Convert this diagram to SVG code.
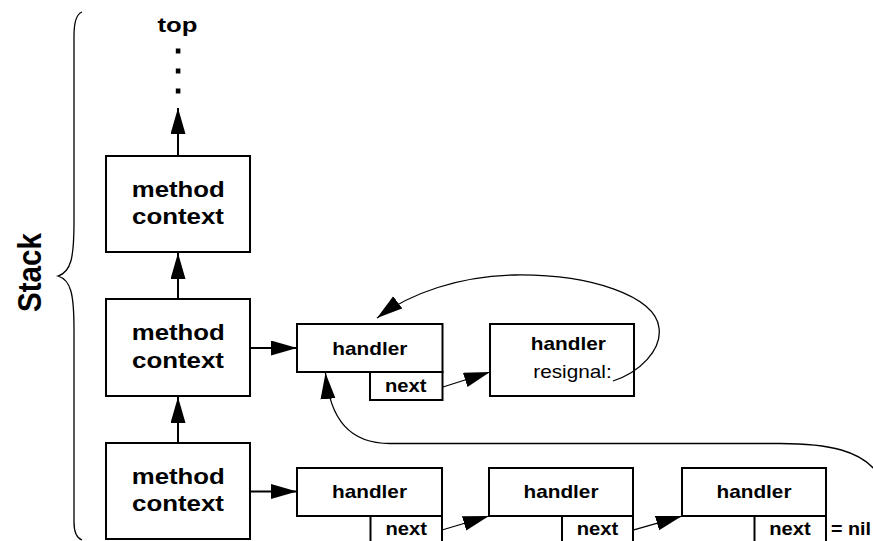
<svg xmlns="http://www.w3.org/2000/svg" width="873" height="541" viewBox="0 0 873 541">
  <style>
    .box { fill: #ffffff; stroke: #000000; stroke-width: 2; }
    .lbl { font-family: "Liberation Sans", Arial, Helvetica, sans-serif; font-weight: bold; fill: #000000; text-anchor: middle; }
    .plain { font-family: "Liberation Sans", Arial, Helvetica, sans-serif; font-weight: normal; fill: #000000; }
    .line { fill: none; stroke: #000000; stroke-width: 2; }
    .curve { fill: none; stroke: #000000; stroke-width: 1.3; }
  </style>
  <defs>
    <marker id="arrow" markerUnits="userSpaceOnUse" markerWidth="28" markerHeight="16" refX="26" refY="7.5" orient="auto">
      <path d="M0,0 L26,7.5 L0,15 Z" fill="#000000"/>
    </marker>
  </defs>

  <rect width="873" height="541" fill="#ffffff"/>

  <!-- stack brace and label -->
  <g id="stack">
    <path d="M82,12 C76.5,14 74,22 74,36 L74,222 C74,258 71,272 58,276 C71,280 74,294 74,330 L74,522 C74,532 76.5,538 82,540" fill="none" stroke="#000000" stroke-width="1.3"/>
    <text class="lbl" transform="translate(40.5,272.5) rotate(-90) scale(1,1.2)" font-size="27" textLength="79" lengthAdjust="spacingAndGlyphs">Stack</text>
  </g>

  <!-- top of stack -->
  <g id="top">
    <text class="lbl" x="177.5" y="31.7" font-size="21" textLength="40" lengthAdjust="spacingAndGlyphs">top</text>
    <rect x="175.8" y="48.5" width="4.6" height="5"/>
    <rect x="175.8" y="68.5" width="4.6" height="5"/>
    <rect x="175.8" y="88.5" width="4.6" height="5"/>
  </g>

  <!-- method contexts -->
  <g id="context-top">
    <rect class="box" x="106" y="156" width="144" height="96"/>
    <text class="lbl" x="178.3" y="196.7" font-size="22" textLength="93" lengthAdjust="spacingAndGlyphs">method</text>
    <text class="lbl" x="178" y="224" font-size="22" textLength="92" lengthAdjust="spacingAndGlyphs">context</text>
  </g>
  <g id="context-middle">
    <rect class="box" x="106" y="299" width="144" height="97"/>
    <text class="lbl" x="178.3" y="340" font-size="22" textLength="93" lengthAdjust="spacingAndGlyphs">method</text>
    <text class="lbl" x="178" y="367.8" font-size="22" textLength="92" lengthAdjust="spacingAndGlyphs">context</text>
  </g>
  <g id="context-bottom">
    <rect class="box" x="106" y="443" width="144" height="96"/>
    <text class="lbl" x="178.3" y="483.5" font-size="22" textLength="93" lengthAdjust="spacingAndGlyphs">method</text>
    <text class="lbl" x="178" y="511.3" font-size="22" textLength="92" lengthAdjust="spacingAndGlyphs">context</text>
  </g>

  <!-- handlers of the middle context -->
  <g id="handler-a">
    <rect class="box" x="297" y="324" width="145.5" height="48"/>
    <rect class="box" x="370" y="372" width="72.5" height="28"/>
    <text class="lbl" x="369.8" y="355" font-size="18.5" textLength="75" lengthAdjust="spacingAndGlyphs">handler</text>
    <text class="lbl" x="405.8" y="391.7" font-size="18.5" textLength="41.5" lengthAdjust="spacingAndGlyphs">next</text>
  </g>
  <g id="handler-resignal">
    <rect class="box" x="490" y="324" width="144" height="72"/>
    <text class="lbl" x="568.3" y="350" font-size="18.5" textLength="75" lengthAdjust="spacingAndGlyphs">handler</text>
    <text class="plain" x="533.3" y="378.3" font-size="18.5" textLength="78.4" lengthAdjust="spacingAndGlyphs">resignal:</text>
  </g>

  <!-- handlers of the bottom context -->
  <g id="handler-1">
    <rect class="box" x="297" y="468" width="145" height="48"/>
    <rect class="box" x="370.5" y="516" width="71.5" height="30"/>
    <text class="lbl" x="369.5" y="498" font-size="18.5" textLength="75" lengthAdjust="spacingAndGlyphs">handler</text>
    <text class="lbl" x="406.3" y="535" font-size="18.5" textLength="41.5" lengthAdjust="spacingAndGlyphs">next</text>
  </g>
  <g id="handler-2">
    <rect class="box" x="489" y="468" width="144" height="48"/>
    <rect class="box" x="562" y="516" width="71" height="30"/>
    <text class="lbl" x="561" y="498" font-size="18.5" textLength="75" lengthAdjust="spacingAndGlyphs">handler</text>
    <text class="lbl" x="597.5" y="535" font-size="18.5" textLength="41.5" lengthAdjust="spacingAndGlyphs">next</text>
  </g>
  <g id="handler-3">
    <rect class="box" x="682" y="468" width="144" height="48"/>
    <rect class="box" x="754.5" y="516" width="71.5" height="30"/>
    <text class="lbl" x="754" y="498" font-size="18.5" textLength="75" lengthAdjust="spacingAndGlyphs">handler</text>
    <text class="lbl" x="790" y="535" font-size="18.5" textLength="41.5" lengthAdjust="spacingAndGlyphs">next</text>
    <text class="lbl" x="851" y="535" font-size="18.5" textLength="40" lengthAdjust="spacingAndGlyphs">= nil</text>
  </g>

  <!-- connectors -->
  <g id="connectors">
    <line class="line" x1="178" y1="156" x2="178" y2="108" marker-end="url(#arrow)"/>
    <line class="line" x1="178" y1="299" x2="178" y2="253" marker-end="url(#arrow)"/>
    <line class="line" x1="178" y1="443" x2="178" y2="397" marker-end="url(#arrow)"/>
    <line class="line" x1="250" y1="348" x2="297" y2="348" marker-end="url(#arrow)"/>
    <line class="line" x1="250" y1="491.5" x2="297" y2="491.5" marker-end="url(#arrow)"/>
    <line class="curve" x1="443" y1="387" x2="490" y2="372" marker-end="url(#arrow)"/>
    <line class="curve" x1="442" y1="530" x2="489" y2="516" marker-end="url(#arrow)"/>
    <line class="curve" x1="633" y1="530" x2="682" y2="516" marker-end="url(#arrow)"/>
    <path class="curve" d="M613,381 C640,372 662,350 659,328 C656,296 590,274 515,275 C460,276 410,293 377,318" marker-end="url(#arrow)"/>
    <path class="curve" d="M875,470 C860,452 832,443.5 780,443.5 L390,443.5 C350,443.5 330,420 325.5,373" marker-end="url(#arrow)"/>
  </g>
</svg>
